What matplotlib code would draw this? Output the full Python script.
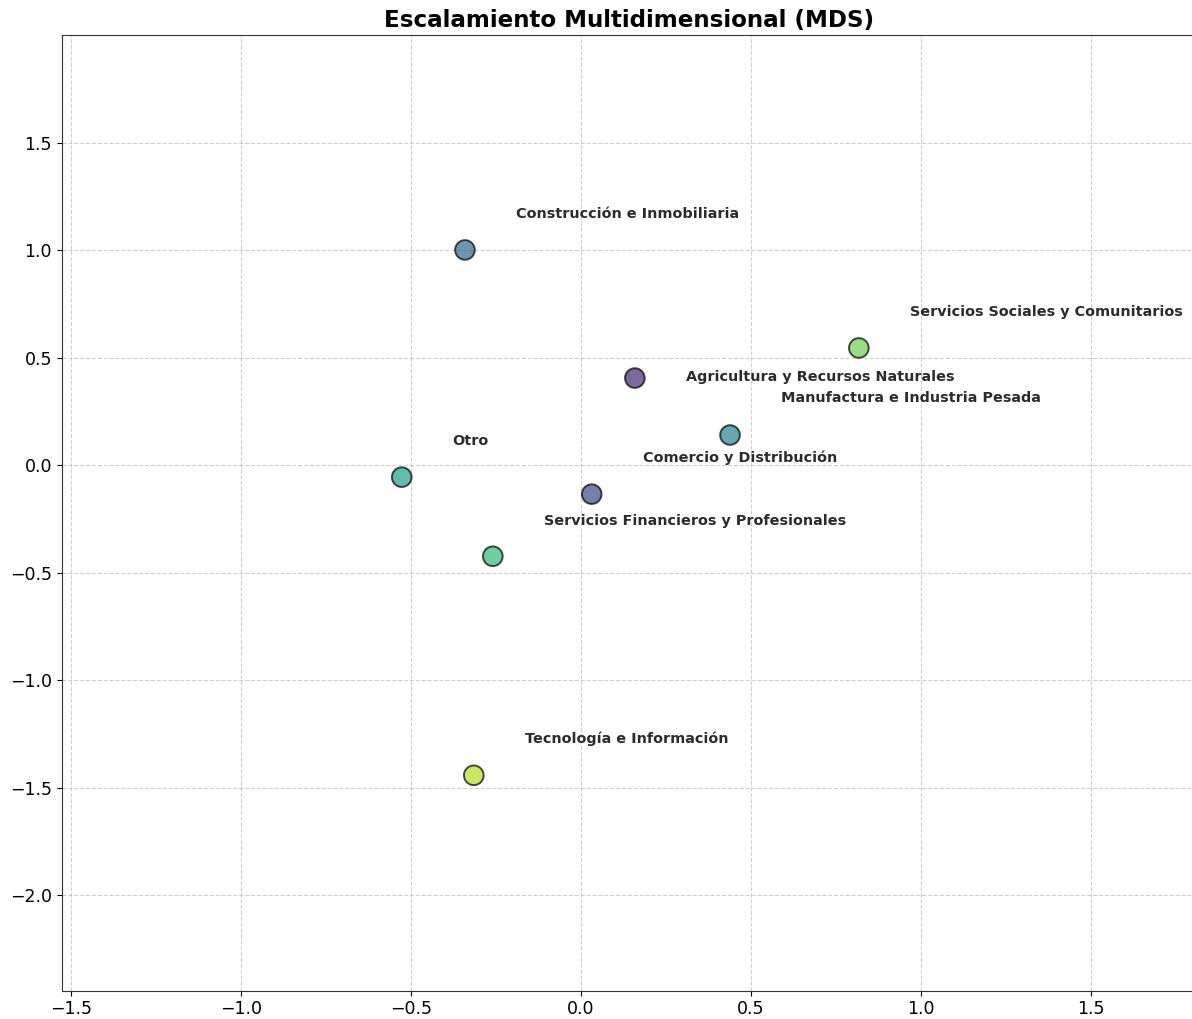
import matplotlib
matplotlib.use("Agg")
import matplotlib.pyplot as plt
import numpy as np

# Data
categories = [
    "Agricultura y Recursos Naturales",
    "Comercio y Distribución",
    "Construcción e Inmobiliaria",
    "Manufactura e Industria Pesada",
    "Otro",
    "Servicios Financieros y Profesionales",
    "Servicios Sociales y Comunitarios",
    "Tecnología e Información",
]
dim1 = [0.159, 0.032, -0.341, 0.439, -0.527, -0.259, 0.818, -0.315]
dim2 = [0.405, -0.135, 1.001, 0.140, -0.056, -0.424, 0.545, -1.443]

# label offsets (annotation placement)
label_dx = 0.15
label_dy = [0.005, 0.167, 0.167, 0.172, 0.167, 0.163, 0.167, 0.168]

W, H = 1192, 1019
fig = plt.figure(figsize=(W / 100, H / 100), dpi=100)
left, right, bottom, top = 61.7, 1197, 990.7, 35.3
ax = fig.add_axes([left / W, 1 - bottom / H, (right - left) / W, (bottom - top) / H])

bins = np.linspace(0, 1, len(categories) + 2)[1:-1]
colors = plt.cm.viridis(bins)

ax.scatter(dim1, dim2, s=200, c=colors, alpha=0.7, edgecolors="black",
           linewidths=1.4, zorder=3)

for i, name in enumerate(categories):
    ax.text(dim1[i] + label_dx, dim2[i] + label_dy[i], name, fontsize=10.4,
            fontweight="bold", color="#2b2b2b", ha="left", va="center", zorder=4)

ax.set_xlim(-1.5275, 1.813)
ax.set_ylim(-2.445, 1.9995)
ax.grid(True, linestyle="--", alpha=0.6, color="#b0b0b0")
ax.set_axisbelow(True)
ax.tick_params(labelsize=12.5)
for sp in ax.spines.values():
    sp.set_color("#333333")
ax.set_title("Escalamiento Multidimensional (MDS)", fontsize=16.6, fontweight="bold", pad=6)

fig.savefig("out.png", dpi=100)
